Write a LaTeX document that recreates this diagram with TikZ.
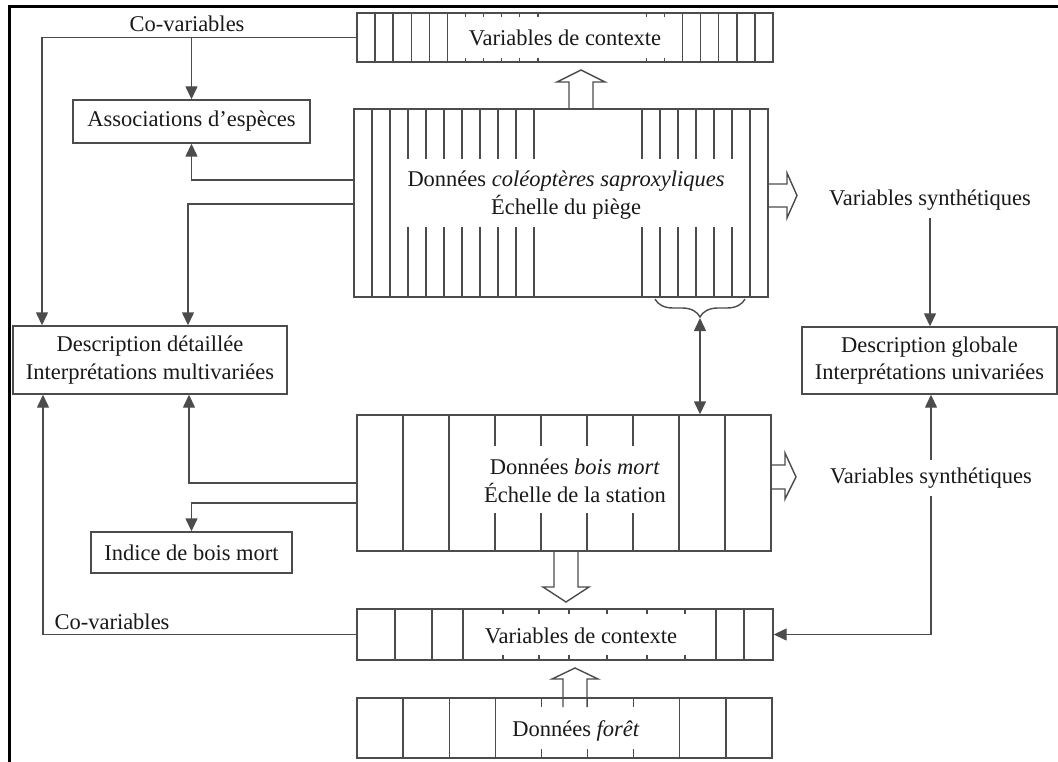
\documentclass[tikz,border=0pt]{standalone}
\usepackage{fontspec}
\setmainfont{Liberation Serif}
\usetikzlibrary{arrows.meta,decorations.pathreplacing,calc}
\newcommand{\fs}{\fontsize{22.5}{27.5}\selectfont}
\begin{document}
\begin{tikzpicture}[x=1pt,y=-1pt,
  ln/.style={draw=black!70, line width=1.4pt},
  box/.style={ln, rectangle, inner sep=0pt},
  lbl/.style={inner sep=0pt, text=black!90, font=\fs, align=center},
  vlbl/.style={lbl, inner sep=8pt},
  arr/.style={ln, -{Triangle[length=13pt,width=12pt]}},
  darr/.style={ln, {Triangle[length=13pt,width=12pt]}-{Triangle[length=13pt,width=12pt]}},
  hollow/.style={ln, line join=miter}]
\useasboundingbox (0,0) rectangle (1058,762);
% frame
\draw[line width=3pt, black] (9.5,762) -- (9.5,7) -- (1058,7);

% ---------- boxes ----------
\node[box, minimum width=416pt, minimum height=49pt] (vctop) at (565,37.5) {};
\node[box, minimum width=414pt, minimum height=188pt] (coleo) at (561,203) {};
\node[box, minimum width=414pt, minimum height=136pt] (bois) at (564,483) {};
\node[box, minimum width=416pt, minimum height=51pt] (vcbot) at (565,634.5) {};
\node[box, minimum width=415pt, minimum height=60pt] (foret) at (564.5,728) {};
\node[box, minimum width=237pt, minimum height=43pt, lbl, draw=black!70] (assoc) at (191.5,121.5) {Associations d'espèces};
\node[box, minimum width=274pt, minimum height=68pt, lbl, draw=black!70] (desc) at (150,360) {Description détaillée\\Interprétations multivariées};
\node[box, minimum width=201pt, minimum height=41pt, lbl, draw=black!70] (indice) at (191.5,552.5) {Indice de bois mort};
\node[box, minimum width=255pt, minimum height=67pt, lbl, draw=black!70] (glob) at (929.5,360.5) {Description globale\\Interprétations univariées};

% ---------- inner rulings ----------
% top context variables
\foreach \k in {1,2,3,4,5,18,19,20,21,22}
  \draw[ln] ({357+18.087*\k},13) -- ({357+18.087*\k},62);
\foreach \k in {6,7,8,9,10,16,17}{
  \draw[ln] ({357+18.087*\k},13) -- ({357+18.087*\k},17);
  \draw[ln] ({357+18.087*\k},58) -- ({357+18.087*\k},62);}
% beetles
\foreach \k in {1,2,22}
  \draw[ln] ({354+18*\k},109) -- ({354+18*\k},297);
\foreach \k in {3,4,5,6,7,8,9,10,16,17,18,19,20,21}{
  \draw[ln] ({354+18*\k},109) -- ({354+18*\k},159);
  \draw[ln] ({354+18*\k},227) -- ({354+18*\k},297);}
% dead wood
\foreach \k in {1,2,7,8}
  \draw[ln] ({357+46*\k},415) -- ({357+46*\k},551);
\foreach \k in {3,4,5,6}{
  \draw[ln] ({357+46*\k},415) -- ({357+46*\k},446);
  \draw[ln] ({357+46*\k},513) -- ({357+46*\k},551);}
% bottom context variables
\foreach \x in {395,432,463,716,744}
  \draw[ln] (\x,609) -- (\x,660);
\foreach \x in {503,539,569,607,647,685}{
  \draw[ln] (\x,609) -- (\x,614);
  \draw[ln] (\x,655) -- (\x,660);}
% forest
\foreach \k in {1,2,3,7,8}
  \draw[ln] ({357+46.1*\k},698) -- ({357+46.1*\k},758);
\foreach \k in {4,5,6}{
  \draw[ln] ({357+46.1*\k},698) -- ({357+46.1*\k},707);
  \draw[ln] ({357+46.1*\k},749) -- ({357+46.1*\k},758);}

% ---------- box texts ----------
\node[lbl] (vctopT) at (565,38) {Variables de contexte};
\node[lbl] (coleoT) at (566,195) {Données \textit{coléoptères saproxyliques}\\Échelle du piège};
\node[lbl] (boisT) at (575,481) {Données \textit{bois mort}\\Échelle de la station};
\node[lbl] (vcbotT) at (581,636) {Variables de contexte};
\node[lbl] (foretT) at (576,731) {Données \textit{forêt}};

% ---------- free labels ----------
\node[lbl] (cov1) at (187,24) {Co-variables};
\node[lbl] (cov2) at (112,622) {Co-variables};
\node[vlbl] (vs1) at (930,200) {Variables synthétiques};
\node[vlbl] (vs2) at (931,478) {Variables synthétiques};

% ---------- hollow arrows ----------
\draw[hollow] (569,109) -- (569,82) -- (557,82) -- (581,70) -- (605,82) -- (593,82) -- (593,109);
\draw[hollow] (768,184) -- (787,184) -- (787,173) -- (797,195.5) -- (787,218) -- (787,207) -- (768,207);
\draw[hollow] (771,465) -- (785,465) -- (785,453) -- (796,477) -- (785,499) -- (785,489) -- (771,489);
\draw[hollow] (554,551) -- (554,587) -- (543,587) -- (566,602) -- (589,587) -- (578,587) -- (578,551);
\draw[hollow] (563,707) -- (563,679) -- (552,679) -- (575,668) -- (598,679) -- (587,679) -- (587,707);

% ---------- brace and double arrow ----------
\draw[ln, decorate, decoration={brace, mirror, amplitude=18pt}] (655,299) -- (745,299);
\coordinate (btip) at (700,318);
\draw[darr] (btip) -- (btip |- bois.north);

% ---------- connectors ----------
\draw[arr] (vctop.west) -| (desc.north -| 42,0);
\draw[arr] (assoc.north |- vctop.west) -- (assoc.north);
\draw[arr] (coleo.west |- 0,180) -| (assoc.south);
\draw[arr] (coleo.west |- 0,204) -| (desc.north -| 188,0);
\draw[arr] (bois.west) -| (desc.south -| 189,0);
\draw[arr] (bois.west |- 0,503) -| (indice.north);
\draw[arr] (vcbot.west) -| (desc.south -| 43,0);
\draw[arr] (vs1.south) -- (vs1.south |- glob.north);
\draw[arr] (vs2.north) -- (vs2.north |- glob.south);
\draw[arr] (vs2.south) |- (vcbot.east);
\end{tikzpicture}
\end{document}
